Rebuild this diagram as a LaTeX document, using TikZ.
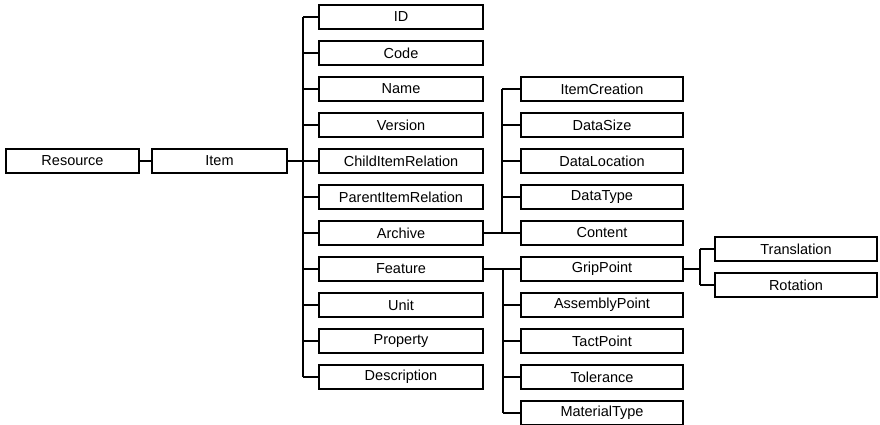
\documentclass[tikz,border=0pt]{standalone}
\usepackage{fontspec}
\setmainfont{Liberation Sans}
\begin{document}
\begin{tikzpicture}[x=1pt,y=-1pt,
  box/.style={draw, line width=1.6pt, minimum height=24pt, inner sep=0pt, font=\fontsize{14.5}{16}\selectfont},
  colA/.style={box, minimum width=164pt},
  colB/.style={box, minimum width=162pt},
  conn/.style={line width=1.2pt},
  thickconn/.style={line width=2.4pt}]
\useasboundingbox (0,0) rectangle (880,424);
\node[box, minimum width=133pt] (res) at (72.5,161) {Resource};
\node[box, minimum width=135pt] (item) at (219.5,161) {Item};
% middle column
\foreach \n/\t/\y in {id/ID/17, code/Code/53, name/Name/89, version/Version/125,
  child/ChildItemRelation/161, parent/ParentItemRelation/197, archive/Archive/233,
  feature/Feature/269, unit/Unit/305, property/Property/341, desc/Description/377}
  \node[colA] (\n) at (401,\y) {\t};
% archive children
\foreach \n/\t/\y in {ic/ItemCreation/89, ds/DataSize/125, dl/DataLocation/161,
  dt/DataType/197, ct/Content/233}
  \node[colB] (\n) at (602,\y) {\t};
% feature children
\foreach \n/\t/\y in {gp/GripPoint/269, ap/AssemblyPoint/305, tp/TactPoint/341,
  tol/Tolerance/377, mt/MaterialType/413}
  \node[colB] (\n) at (602,\y) {\t};
% grip point children
\node[colB] (tr) at (796,249) {Translation};
\node[colB] (rot) at (796,285) {Rotation};
% junction coordinates
\coordinate (j1) at (303,161);
\coordinate (j2) at (502,233);
\coordinate (j3) at (503,269);
\coordinate (j4) at (700,269);
% connectors
\draw[conn] (res) -- (item);
\draw[thickconn] (item.east) -- (j1);
\draw[conn] (id.west -| j1) -- (desc.west -| j1);
\foreach \n in {id,code,name,version,child,parent,archive,feature,unit,property,desc}
  \draw[conn] (\n.west -| j1) -- (\n.west);
\draw[line width=1.6pt] (archive.east) -- (j2);
\draw[conn] (ic.west -| j2) -- (ct.west -| j2);
\foreach \n in {ic,ds,dl,dt,ct}
  \draw[conn] (\n.west -| j2) -- (\n.west);
\draw[thickconn] (feature.east) -- (j3);
\draw[conn] (j3) -- (mt.west -| j3);
\foreach \n in {gp,ap,tp,tol,mt}
  \draw[conn] (\n.west -| j3) -- (\n.west);
\draw[conn] (gp.east) -- (j4);
\draw[conn] (tr.west -| j4) -- (rot.west -| j4);
\draw[conn] (tr.west -| j4) -- (tr.west);
\draw[conn] (rot.west -| j4) -- (rot.west);
\end{tikzpicture}
\end{document}
